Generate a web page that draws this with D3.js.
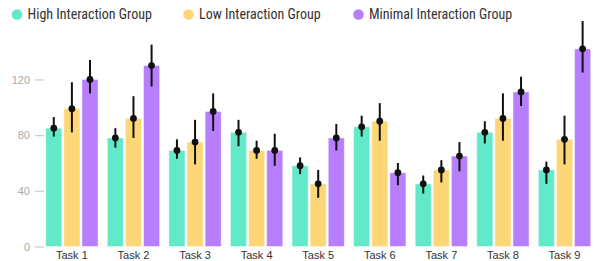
<!DOCTYPE html>
<html>
<head>
<meta charset="utf-8">
<script src="https://cdn.jsdelivr.net/npm/d3@7"></script>
<style>
  body { margin: 0; background: #fff; }
  text { font-family: "Liberation Sans Narrow", "Roboto Condensed", "Liberation Sans", sans-serif; }
</style>
</head>
<body>
<div id="chart"></div>
<script>
var tasks = ['Task 1', 'Task 2', 'Task 3', 'Task 4', 'Task 5', 'Task 6', 'Task 7', 'Task 8', 'Task 9'];
var groups = ['High Interaction Group', 'Low Interaction Group', 'Minimal Interaction Group'];
var colors = ['#62e9c9', '#fdd677', '#b77ffd'];

var highMean = [85, 78, 69, 82, 58, 86, 45, 82, 55];
var highLow  = [79, 71, 63, 72, 52, 79, 38, 74, 45];
var highUp   = [93, 85, 77, 91, 64, 94, 51, 90, 61];

var lowMean = [99, 92, 75, 69, 45, 90, 55, 92, 77];
var lowLow  = [82, 78, 59, 63, 35, 76, 46, 76, 59];
var lowUp   = [118, 108, 91, 76, 55, 103, 62, 110, 94];

var minMean = [120, 130, 97, 69, 78, 53, 65, 111, 142];
var minLow  = [110, 115, 83, 58, 69, 44, 54, 101, 125];
var minUp   = [134, 145, 110, 81, 88, 60, 75, 122, 162];

var yTicks = [0, 40, 80, 120];

var means = [highMean, lowMean, minMean];
var lows = [highLow, lowLow, minLow];
var ups = [highUp, lowUp, minUp];

var width = 598, height = 261;

var svg = d3.select("#chart").append("svg")
  .attr("width", width)
  .attr("height", height);

var x0 = d3.scaleBand()
  .domain(tasks)
  .range([40.8, 595.6])
  .paddingInner(0.15)
  .paddingOuter(0.08);

var x1 = d3.scaleBand()
  .domain(groups)
  .range([0, x0.bandwidth()])
  .paddingInner(0.11);

var y = d3.scaleLinear()
  .domain([0, 160])
  .range([246.5, 23.8]);

// legend
var legend = svg.append("g");
var legendX = [17, 188.5, 358.5];
groups.forEach(function (g, i) {
  legend.append("circle")
    .attr("cx", legendX[i])
    .attr("cy", 14.5)
    .attr("r", 5.3)
    .attr("fill", colors[i]);
  legend.append("text")
    .attr("x", legendX[i] + 10.5)
    .attr("y", 18.8)
    .attr("font-size", 14)
    .attr("fill", "#333")
    .text(g);
});

// y axis
var yAxis = svg.append("g")
  .attr("transform", "translate(44,0)")
  .call(d3.axisLeft(y).tickValues(yTicks).tickSize(9).tickPadding(5));
yAxis.select(".domain").remove();
yAxis.selectAll(".tick line").attr("stroke", "#cccccc").attr("stroke-width", 1.2);
yAxis.selectAll(".tick text")
  .attr("fill", "#aaaaaa")
  .attr("font-size", 11)
  .style("font-family", "'Liberation Sans Narrow', 'Liberation Sans', sans-serif");

// x axis
var xAxis = svg.append("g")
  .attr("transform", "translate(0," + 246.5 + ")")
  .call(d3.axisBottom(x0).tickSize(0).tickPadding(5));
xAxis.select(".domain").remove();
xAxis.selectAll(".tick text")
  .attr("fill", "#333")
  .attr("font-size", 11)
  .style("font-family", "'Liberation Sans Narrow', 'Liberation Sans', sans-serif");

// bars
var rows = [];
tasks.forEach(function (t, ti) {
  groups.forEach(function (g, gi) {
    rows.push({ task: t, group: g, gi: gi, mean: means[gi][ti], lo: lows[gi][ti], hi: ups[gi][ti] });
  });
});

var plot = svg.append("g");

plot.selectAll(".bar")
  .data(rows)
  .enter()
  .append("rect")
  .attr("class", "bar")
  .attr("x", d => x0(d.task) + x1(d.group))
  .attr("y", d => y(d.mean))
  .attr("width", x1.bandwidth())
  .attr("height", d => y(0) - y(d.mean))
  .attr("fill", d => colors[d.gi])
  .attr("stroke", "rgba(255,255,255,0.45)")
  .attr("stroke-width", 1);

plot.selectAll(".err")
  .data(rows)
  .enter()
  .append("line")
  .attr("class", "err")
  .attr("x1", d => x0(d.task) + x1(d.group) + x1.bandwidth() / 2)
  .attr("x2", d => x0(d.task) + x1(d.group) + x1.bandwidth() / 2)
  .attr("y1", d => y(d.lo))
  .attr("y2", d => y(d.hi))
  .attr("stroke", "#111")
  .attr("stroke-width", 2);

plot.selectAll(".dot")
  .data(rows)
  .enter()
  .append("circle")
  .attr("class", "dot")
  .attr("cx", d => x0(d.task) + x1(d.group) + x1.bandwidth() / 2)
  .attr("cy", d => y(d.mean))
  .attr("r", 3.4)
  .attr("fill", "#111");
</script>
</body>
</html>
